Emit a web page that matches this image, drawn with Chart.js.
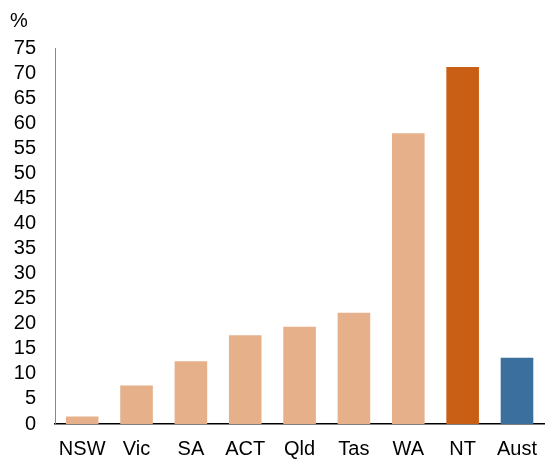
<!DOCTYPE html>
<html>
<head>
<meta charset="utf-8">
<script src="https://cdn.jsdelivr.net/npm/chart.js@4/dist/chart.umd.min.js"></script>
<style>
  html, body { margin: 0; padding: 0; background: #fff; }
  #wrap { width: 550px; height: 459px; }
</style>
</head>
<body>
<div id="wrap"><canvas id="chart"></canvas></div>
<script>
// DATA
const states = ['NSW', 'Vic', 'SA', 'ACT', 'Qld', 'Tas', 'WA', 'NT', 'Aust'];
const shares = [1.5, 7.7, 12.5, 17.7, 19.4, 22.2, 58.0, 71.2, 13.2];
const barColours = ['#E5B08A', '#E5B08A', '#E5B08A', '#E5B08A', '#E5B08A', '#E5B08A', '#E5B08A', '#C95F15', '#3A6F9E'];
const yTicks = { min: 0, max: 75, step: 5 };

Chart.defaults.font.family = '"Liberation Sans", Arial, sans-serif';
Chart.defaults.font.size = 20;
Chart.defaults.color = '#000';

new Chart(document.getElementById('chart'), {
    type: 'bar',
    data: {
        labels: states,
        datasets: [{
            data: shares,
            backgroundColor: barColours,
            borderWidth: 0,
            barPercentage: 0.6,
            categoryPercentage: 1
        }]
    },
    options: {
        responsive: true,
        maintainAspectRatio: false,
        animation: false,
        layout: { padding: { left: 10, right: 0, top: 0, bottom: 0 } },
        plugins: {
            legend: { display: false },
            tooltip: { enabled: false },
            title: {
                display: true,
                text: '%',
                align: 'start',
                font: { size: 20, weight: 'normal' },
                color: '#000',
                padding: { top: 9, bottom: 15 }
            }
        },
        scales: {
            x: {
                grid: { display: false, drawTicks: false },
                border: { display: true, color: '#000', width: 1.5 },
                ticks: { padding: 13, maxRotation: 0, autoSkip: false },
                afterFit: s => { s.height = 35; }
            },
            y: {
                min: yTicks.min,
                max: yTicks.max,
                grid: { display: false, drawTicks: false },
                border: { display: true, color: '#888', width: 1 },
                ticks: { stepSize: yTicks.step, padding: 19, autoSkip: false },
                afterFit: s => { s.width = 45; }
            }
        }
    }
});
</script>
</body>
</html>
